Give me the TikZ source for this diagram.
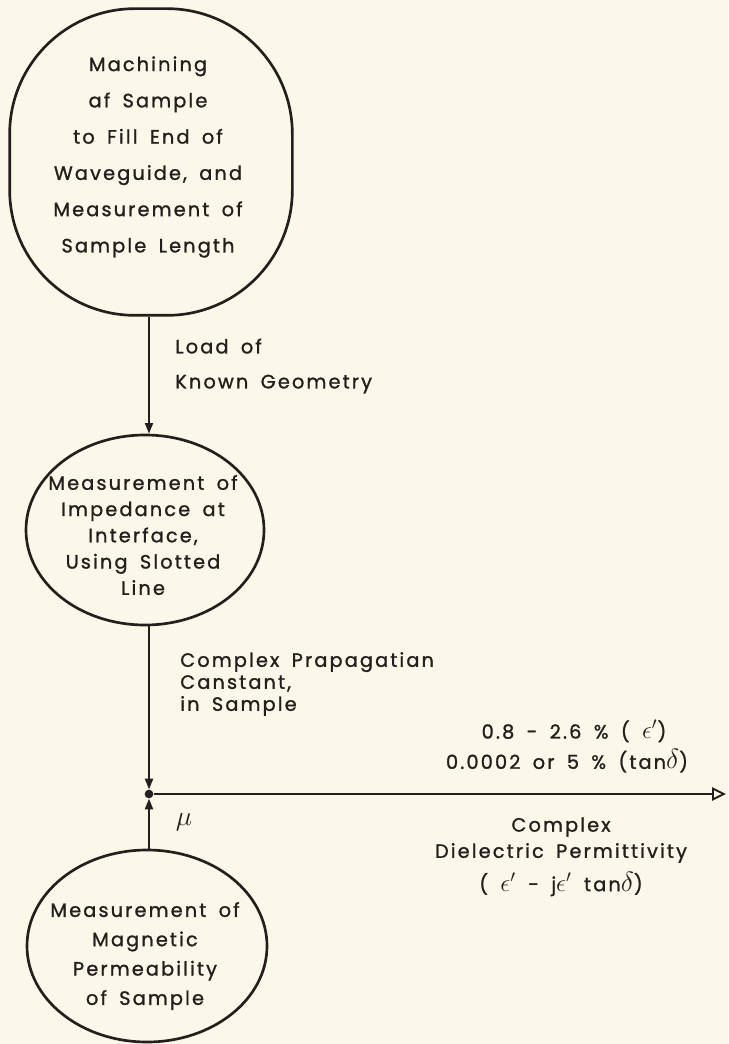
\documentclass[tikz,border=0pt]{standalone}
\usepackage{fontspec}
\usepackage{graphicx}
\setmainfont{Poppins}[LetterSpace=11,WordSpace=1.7,FakeBold=1.2]
\usetikzlibrary{arrows.meta,shapes.geometric}
\definecolor{paper}{RGB}{250,248,232}
\definecolor{ink}{RGB}{38,30,30}
\newcommand{\eps}{\scalebox{1.3}{$\epsilon'$}}
\newcommand{\dlt}{\scalebox{1.45}{$\delta$}}
\begin{document}
\begin{tikzpicture}[x=0.75pt,y=-0.75pt,
  every node/.style={text=ink},
  lab/.style={inner sep=0pt,font=\fontsize{14.5}{17}\selectfont},
  blob/.style={draw=ink,line width=2pt,rounded corners=94pt,minimum width=212pt,minimum height=230pt,inner sep=0pt},
  oval/.style={draw=ink,line width=2pt,ellipse,inner sep=0pt},
  conn/.style={draw=ink,line width=1.4pt},
  tipf/.style={-{Triangle[length=8pt,width=6pt]}},
  tipo/.style={-{Triangle[open,length=10.5pt,width=10pt,line width=1.4pt]}},
]
\fill[paper] (0,0) rectangle (728,1044);
\useasboundingbox (0,0) rectangle (728,1044);

% shapes
\node[blob] (top) at (151,162) {};
\node[oval,minimum width=178.5pt,minimum height=142.5pt] (mid) at (145,530) {};
\node[oval,minimum width=180pt,minimum height=144pt] (bot) at (147,946) {};
\node[circle,fill=ink,inner sep=0pt,minimum size=6.5pt] (J) at (149,794) {};
\coordinate (E) at (726,794);

% node texts
\node[lab,align=center,font=\fontsize{14.5}{27.2}\selectfont] (topT) at (148,157)
  {Machining\\af Sample\\to Fill End of\\Waveguide, and\\Measurement of\\Sample Length};
\node[lab,align=center,font=\fontsize{14.5}{19.7}\selectfont] (midT) at (143,535)
  {Measurement of\\Impedance at\\Interface,\\Using Slotted\\Line};
\node[lab,align=center,font=\fontsize{14.5}{22}\selectfont] (botT) at (145,956)
  {Measurement of\\Magnetic\\Permeability\\of Sample};

% connectors
\draw[conn,tipf] (top.south -| J) -- (mid.north -| J);
\draw[conn,tipf] (mid.south -| J) -- (J);
\draw[conn,tipf] (bot.north -| J) -- (J);
\draw[conn,tipo] (J) -- (E);

% connector labels
\node[lab,anchor=west,align=left,font=\fontsize{14.5}{26.25}\selectfont] (l1) at (175,366)
  {Load of\\Known Geometry};
\node[lab,anchor=west,align=left,font=\fontsize{14.5}{16.5}\selectfont] (l2) at (180,684)
  {Complex Prapagatian\\Canstant,\\in Sample};
\node[lab] (l3a) at (574,731) {0.8 - 2.6 \% ( \eps)};
\node[lab] (l3b) at (567,761) {0.0002 or 5 \% (tan\dlt)};
\node[lab] (l4a) at (561,827) {Complex};
\node[lab] (l4b) at (561,853) {Dielectric Permittivity};
\node[lab] (l4c) at (561,884) {( \eps{} - j\eps{} tan\dlt)};
\node[lab,font=\fontsize{22}{24}\selectfont] (mu) at (184,822) {$\mu$};
\end{tikzpicture}
\end{document}
